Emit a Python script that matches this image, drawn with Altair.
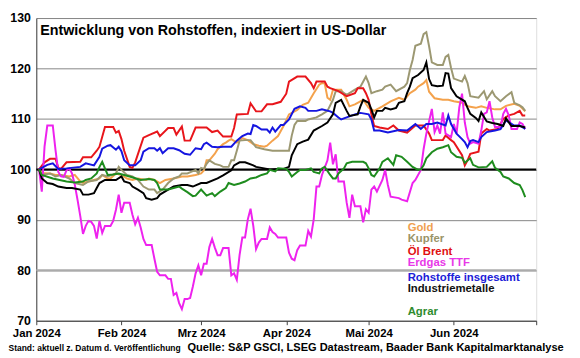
import altair as alt
import pandas as pd

START = pd.Timestamp("2024-01-01")

# (days since 2024-01-01, index value)
gold = [(1,100),(2,99.3),(5,99.2),(7,98.9),(9,98.9),(12,98.6),(14,98.9),(16,97.6),(17,97.3),(19,97.6),
        (21,97.9),(23,98.2),(24,98.9),(26,98.2),(27,98.2),(29,99.2),(31,98.9),(33,98.2),(35,97.9),(37,98.2),
        (40,97.9),(41,98.2),(43,97.9),(45,97.3),(47,97.9),(50,98.2),(53,98.6),(55,98.6),(58,98.9),(60,99.2),
        (61,99.8),(62,101.8),(63,101.8),(65,103.1),(66,104),(68,105),(69,105.3),(70,105.7),(71,106),(73,105.3),
        (75,106.2),(77,105.8),(79,105),(81,104.7),(83,104.5),(84,104.7),(86,105.7),(88,106.6),(90,108.6),(92,110.9),
        (95,111.8),(97,112.8),(99,113.2),(101,115.1),(103,116.8),(104,117.1),(105,117),(106,114.2),(107,113.8),(108,115.8),
        (111,115.8),(113,113.8),(114,112.5),(116,112.9),(119,113.8),(121,112.2),(123,111.6),(126,112.5),(129,113.5),(132,114.2),
        (134,113.8),(136,115.1),(138,115.8),(139,116.4),(141,117.1),(142,117.7),(143,115.4),(145,114.1),(148,113.8),(150,113.8),
        (152,113.5),(155,113.2),(157,112.5),(160,112.2),(162,112.5),(164,112.2),(167,111.9),(169,111.9),(171,112.6),(174,113),
        (176,112.6),(178,111.5)]

kupfer = [(1,100),(2,98.9),(5,99.2),(7,98.6),(9,98.9),(12,98.2),(14,97.3),(17,96.9),(19,97.6),(22,97.9),(24,98.9),
          (26,98.6),(29,99.2),(30,100.5),(31,99.9),(33,98.9),(35,98.6),(37,97.9),(39,96.6),(41,96),(43,96),(44,95.3),
          (46,96),(48,97.3),(50,98.2),(52,98.6),(53,99.2),(55,99.2),(58,99.9),(59,99.2),(60,100.3),(61,100.1),(62,101.1),
          (63,101.8),(65,101.1),(67,100.8),(68,100.5),(70,100.5),(71,101.8),(72,101.8),(73,103.7),(74,105.7),(76,105.8),
          (78,105.8),(79,105.1),(80,104.4),(83,104),(86,103.7),(90,103.7),(92,103.7),(93,106.7),(94,108.8),(95,109.6),
          (98,109.6),(99,109.9),(102,110.3),(104,110.9),(106,111.6),(108,113.8),(109,115.5),(111,115.5),(113,114.8),
          (116,115.8),(118,116.4),(120,118.4),(121,117.1),(122,115.1),(124,115.5),(126,115.8),(127,116.4),(129,116.8),
          (131,115.5),(134,116.4),(135,117.1),(136,119.7),(137,121.7),(138,124.5),(140,124.9),(141,126.8),(142,127.2),
          (143,124.4),(144,121.2),(146,120.7),(148,120.7),(149,122.3),(150,122.7),(151,120.1),(152,118),(155,117.4),
          (156,118.5),(157,117.1),(158,114.5),(161,114.2),(163,115.5),(164,113.9),(166,115.5),(167,114.5),(169,113.5),
          (171,114.5),(173,115.3),(174,113.2),(176,112.7),(177,112.3),(178,111.6)]

brent = [(1,100),(3,101.4),(5,102.1),(7,102.1),(8,100.3),(9,100.1),(11,101.4),(16,101.5),(17,102.4),(20,102.4),
         (22,103.7),(23,104.5),(25,108.4),(28,108.4),(29,107.3),(30,107.6),(31,106),(32,103.7),(34,100.5),(35,100.3),
         (36,101.4),(39,106.3),(41,106.8),(44,107.5),(45,106.6),(48,108.2),(50,108.2),(51,106.9),(53,108.5),(54,105.7),
         (56,105.7),(58,108.3),(62,108.3),(64,107.4),(66,107.7),(68,106.5),(71,106.5),(72,108.2),(73,110.9),(77,111),
         (78,113.1),(80,111.5),(82,111.5),(84,112.9),(86,112.9),(89,113.4),(91,115),(92,117.4),(95,118.4),(98,118.4),
         (100,117.1),(101,116.1),(102,117.4),(105,117.4),(106,116.4),(107,116.1),(110,115.5),(113,114.5),(116,115.1),
         (117,116.1),(119,116.1),(120,115.1),(121,113.8),(122,110.9),(123,108.6),(125,108.3),(128,108),(130,108.7),
         (132,107.7),(135,107.3),(138,108.7),(141,108.7),(143,107.1),(144,105.8),(148,105.8),(149,106.7),(151,105.8),
         (152,105.4),(155,102.8),(156,100.8),(157,101.8),(158,103.1),(161,103.5),(162,107.1),(164,108),(165,107.7),
         (168,108),(169,109),(170,110),(172,110.7),(174,111),(176,111.6),(177,110.7),(178,110.7)]

ttf = [(1,100),(2,95.6),(3,104.5),(4,108.7),(6,108.7),(7,103.8),(8,99.5),(9,98.6),(10,98.5),(11,99.8),(12,100.2),
       (13,99.2),(14,97),(15,94),(16,90.8),(17,87.2),(18,88.8),(19,89.8),(20,89.6),(21,88.8),(22,86.3),(23,89.8),
       (24,87.4),(25,88.8),(27,88.8),(28,89.8),(29,92),(30,95),(31,91.4),(32,93.4),(34,93.4),(35,91),(36,89.1),
       (37,90.4),(38,88.5),(39,86.2),(40,85),(42,85),(43,82.3),(44,79.7),(45,79),(47,79),(48,78.3),(49,78.3),
       (50,75.1),(51,75.5),(52,73.5),(53,72.3),(54,74.3),(55,74.3),(56,74.5),(57,76.8),(58,79.4),(59,81),(60,79),
       (61,81.3),(62,81.3),(63,84.6),(64,86.2),(65,84.5),(66,83),(67,83),(68,84.4),(70,84.4),(71,79),(72,79.4),
       (73,78.1),(74,83),(75,86.5),(76,86.5),(77,90.1),(78,92.2),(79,88.8),(80,84.2),(81,85.5),(82,86.2),(84,86.2),
       (85,88.5),(86,87.6),(87,87.2),(88,86.5),(91,86.5),(92,83.5),(93,82.3),(94,82),(95,84),(96,84.9),(98,84.9),
       (99,87.8),(100,86.7),(101,90.1),(102,96.6),(103,96.6),(104,98.9),(106,101.8),(107,105.3),(108,101),(109,103),
       (110,97.6),(112,97.6),(113,93.4),(114,90.4),(115,95),(116,92.7),(118,92.7),(119,89.5),(120,92.1),(121,91.4),
       (122,96),(123,96.6),(124,95.6),(126,97.9),(127,99.9),(128,96.9),(129,94.6),(132,94.3),(133,94),(135,93.7),
       (137,97.3),(138,97.9),(140,99.9),(141,104),(142,107.1),(144,112),(145,107.4),(146,108.7),(147,107.1),
       (148,111.3),(149,107.1),(151,106.4),(152,109),(153,107.1),(154,112.3),(155,115),(156,109.3),(157,106.4),
       (158,105.1),(159,105.4),(161,105.1),(162,107.7),(163,111),(164,111.3),(165,113.5),(166,110.3),(167,108.4),
       (169,108.4),(170,111),(171,112),(172,110.7),(173,108),(175,108),(176,109.3),(177,109),(178,108)]

gesamt = [(1,100),(4,100.9),(6,101.2),(8,100.1),(11,100.2),(16,100.5),(18,101.2),(21,100.8),(23,102.5),(24,104.1),
          (26,104.7),(27,104.8),(29,103.9),(30,104.5),(31,103.6),(32,101.8),(34,100.8),(36,100.8),(38,101.8),(39,103.5),
          (41,104.2),(43,104.2),(44,103.7),(45,104.2),(46,103.2),(48,104.2),(50,104.2),(52,103.8),(54,103.1),(56,102.9),
          (58,104.2),(60,104),(61,105),(62,105.3),(64,104.5),(66,104.4),(68,104.5),(71,104.5),(73,105.7),(75,106.6),
          (77,107.1),(78,107),(79,108.8),(80,108.6),(82,107.9),(84,107.9),(85,107.3),(86,108.3),(87,107.5),(89,108.8),
          (90,108.8),(92,109.9),(94,112),(96,112.5),(98,112.2),(99,111.6),(102,111.6),(104,111.9),(107,111.5),(108,111.2),
          (110,110.3),(111,109.9),(113,110.3),(116,110.9),(118,111.2),(121,110.9),(122,109.9),(123,107.7),(125,107.7),
          (128,107.3),(132,107.8),(135,107.7),(138,109),(140,108),(142,109),(144,109),(146,109.3),(149,108.7),(150,110.7),
          (151,109),(153,107.1),(155,106),(156,105.4),(157,104.4),(158,105.6),(159,105.8),(161,105.4),(162,106.4),
          (164,107.4),(167,107.7),(169,108),(171,109.7),(174,108.7),(176,108.7),(178,108)]

industrie = [(1,100),(2,98.2),(4,97.3),(6,97.1),(8,96.6),(11,96.3),(13,96.3),(16,96),(17,95),(19,95),(21,95.3),
             (22,96.3),(23,97.3),(25,97.9),(27,97.9),(29,97.9),(31,98.6),(32,97.6),(34,97.3),(35,96.6),(37,96),
             (39,95.3),(40,94.3),(42,94),(44,94.3),(45,95),(48,96),(50,96.6),(53,96.9),(55,96.9),(57,96.6),(60,97.3),
             (62,97.3),(66,98.2),(68,98.8),(71,99.8),(72,100.8),(74,101.4),(76,101.4),(79,100.8),(80,100.5),(83,100.2),
             (85,100),(88,100.1),(90,100.1),(92,100.5),(93,102.8),(95,105),(97,105.5),(99,105.9),(101,107.7),(104,108.6),
             (106,109.3),(108,110.9),(109,113.2),(111,113.8),(113,111.6),(114,110.6),(117,110.9),(118,112.5),(119,113.8),
             (121,113.2),(122,111.9),(123,110.3),(124,111.6),(126,111.6),(127,112.2),(129,111.9),(131,112.2),(132,113.2),
             (134,113.5),(135,115.1),(136,116.4),(137,118.1),(139,118.7),(141,119.7),(142,121.2),(143,117.9),(144,116.7),
             (146,116.5),(148,116.6),(149,119.1),(150,119),(151,116.1),(153,114.5),(156,113.5),(157,112.2),(158,111),
             (160,110.2),(161,109.6),(162,111.3),(164,109.5),(166,109.2),(168,109),(170,108.6),(171,110.1),(173,108.6),
             (176,108.6),(178,108.3)]

agrar = [(1,100),(2,98.9),(6,98.2),(11,97.6),(14,97.4),(17,97.6),(18,97.9),(20,98.2),(22,99.2),(23,100.5),(24,101.5),
         (25,100.2),(26,98.9),(28,99),(30,99.2),(32,98.9),(34,98.6),(38,97.9),(41,98.1),(43,97.9),(44,97.3),(45,96),
         (48,96),(50,96.3),(52,96.6),(53,96.2),(55,95.5),(57,94.7),(58,94.8),(60,96),(62,94.8),(64,95.3),(65,94.7),
         (67,95.6),(69,96.3),(70,97.3),(72,96.9),(74,97.2),(76,97.6),(78,98.2),(80,98.4),(82,98.9),(84,99.2),(85,99.9),
         (87,99.6),(88,100.2),(91,100.1),(92,99.5),(93,98.6),(95,99.5),(96,99.9),(98,99.9),(100,100.2),(101,99.5),
         (103,99.2),(104,100.2),(105,100.5),(107,98.9),(108,98.2),(109,98.2),(110,99.2),(112,100.2),(113,101.2),
         (115,101.5),(119,101.5),(120,101.2),(121,100.2),(122,98.9),(123,98.6),(125,100.2),(126,101.5),(128,102.2),
         (130,100.9),(131,102.8),(133,102.5),(135,101.5),(137,100.5),(139,99.9),(140,100),(141,100.8),(142,102.2),
         (144,103.4),(146,104.1),(148,104.4),(150,104.8),(151,103.4),(153,102.5),(155,102.3),(156,101.3),(158,102.2),
         (159,100.9),(161,100.4),(164,100.5),(166,101.6),(167,100.3),(169,99.5),(170,98.6),(172,98.2),(174,97.3),
         (176,96.9),(177,95.9),(178,94.5)]

series_names = ["Gold", "Kupfer", "Öl Brent", "Erdgas TTF", "Rohstoffe insgesamt", "Industriemetalle", "Agrar"]
series_data = [gold, kupfer, brent, ttf, gesamt, industrie, agrar]
line_colors = ["#F4A24C", "#9C9872", "#E8151B", "#EE22EE", "#1515E0", "#000000", "#1E8C1E"]
text_colors = ["#F0A050", "#9A9468", "#E01010", "#E838E8", "#2020D8", "#111111", "#2E8B2E"]
month_labels = ["Jan", "Feb", "Mrz", "Apr", "Mai", "Jun"]
y_ticks = [70, 80, 90, 100, 110, 120, 130]

FONT = "Liberation Sans"

x_scale = alt.Scale(domain=[alt.DateTime(year=2024, month=1, date=1),
                            alt.DateTime(year=2024, month=7, date=1)])
y_scale = alt.Scale(domain=[70, 130], nice=False, zero=False)

label_expr = ("month(datum.value) > 5 ? '' : ['" + "','".join(month_labels)
              + "'][month(datum.value)] + ' ' + year(datum.value)")

x_axis = alt.Axis(values=[alt.DateTime(year=2024, month=m, date=1) for m in range(1, 8)],
                  labelExpr=label_expr, grid=False, tickSize=4, tickColor="#404040",
                  domainColor="#404040", labelFont=FONT, labelFontWeight="bold", labelFontSize=11.5,
                  labelColor="black", labelPadding=3, title=None, labelFlush=False, labelOverlap=False)
y_axis = alt.Axis(values=y_ticks, grid=True, gridColor="#858585", gridWidth=1, ticks=False,
                  domainColor="#404040", labelFont=FONT, labelFontWeight="bold", labelFontSize=12.5,
                  labelColor="black", labelPadding=6, title=None)

X = alt.X("date:T", scale=x_scale, axis=x_axis)
Y = alt.Y("value:Q", scale=y_scale, axis=y_axis)

rule80 = alt.Chart(pd.DataFrame({"value": [80]})).mark_rule(color="#ababab", strokeWidth=2).encode(y=Y)
rule100 = alt.Chart(pd.DataFrame({"value": [100]})).mark_rule(color="#000000", strokeWidth=2).encode(y=Y)

layers = [rule80, rule100]
for name, data, col in zip(series_names, series_data, line_colors):
    df = pd.DataFrame({
        "date": [START + pd.Timedelta(days=d) for d, _ in data],
        "value": [v for _, v in data],
        "series": name,
    })
    layers.append(alt.Chart(df).mark_line(color=col, strokeWidth=2).encode(x=X, y=Y))

# chart title inside plot
layers.append(alt.Chart(pd.DataFrame({"t": ["Entwicklung von Rohstoffen, indexiert in US-Dollar"]}))
              .mark_text(align="left", baseline="alphabetic", font=FONT, fontWeight="bold",
                         fontSize=14.5, color="black")
              .encode(text="t:N", x=alt.value(4), y=alt.value(17.5)))

# in-plot legend labels
legend_y = [212.6, 224.3, 237, 248.6, 263.3, 275.3, 298.3]
for name, col, ly in zip(series_names, text_colors, legend_y):
    layers.append(alt.Chart(pd.DataFrame({"t": [name]}))
                  .mark_text(align="left", baseline="middle", font=FONT, fontWeight="bold",
                             fontSize=11.5, color=col)
                  .encode(text="t:N", x=alt.value(376.6), y=alt.value(ly)))

# footer
layers.append(alt.Chart(pd.DataFrame({"t": ["Stand: aktuell z. Datum d. Veröffentlichung"]}))
              .mark_text(align="left", baseline="alphabetic", font=FONT, fontWeight="bold",
                         fontSize=8.6, color="black")
              .encode(text="t:N", x=alt.value(-28.2), y=alt.value(337.5)))
layers.append(alt.Chart(pd.DataFrame({"t": ["Quelle: S&P GSCI, LSEG Datastream, Baader Bank Kapitalmarktanalyse"]}))
              .mark_text(align="left", baseline="alphabetic", font=FONT, fontWeight="bold",
                         fontSize=11.2, color="black")
              .encode(text="t:N", x=alt.value(153.3), y=alt.value(338)))

chart = alt.layer(*layers).properties(
    width=507, height=307,
    autosize=alt.AutoSizeParams(type="none"),
    padding={"left": 28.7, "top": 7.7, "right": 36.3, "bottom": 35.3},
).configure_view(stroke="#808080", strokeWidth=1).configure(background="white")

chart.save("out.html", embed_options={"renderer": "svg", "actions": False})
